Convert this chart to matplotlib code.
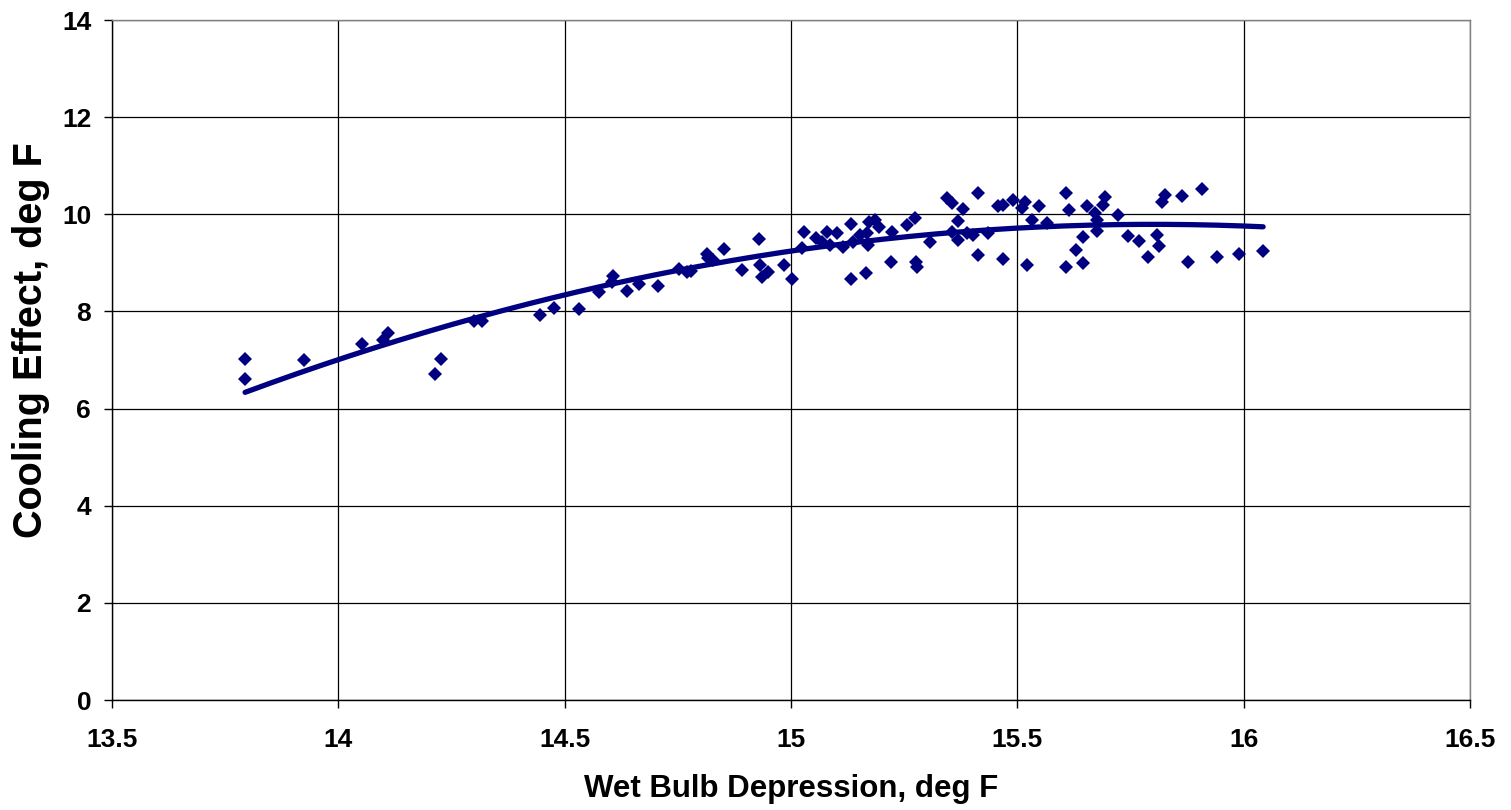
import numpy as np
import matplotlib
matplotlib.use("Agg")
import matplotlib.pyplot as plt

plt.rcParams['font.family'] = ['Liberation Sans', 'DejaVu Sans']

wet_bulb_depression = [
    13.794, 13.794, 13.924, 14.052, 14.099, 14.110, 14.227, 14.213, 14.300, 14.317,
    14.445, 14.476, 14.532, 14.576, 14.607, 14.605, 14.638, 14.664, 14.706, 14.753,
    14.770, 14.779, 14.814, 14.816, 14.828, 14.852, 14.892, 14.929, 14.931, 14.936,
    14.949, 14.984, 15.002, 15.029, 15.024, 15.055, 15.079, 15.102, 15.086, 15.068,
    15.115, 15.132, 15.132, 15.137, 15.152, 15.166, 15.172, 15.186, 15.194, 15.170,
    15.168, 15.223, 15.221, 15.256, 15.274, 15.276, 15.278, 15.307, 15.345, 15.356,
    15.380, 15.369, 15.356, 15.369, 15.413, 15.413, 15.389, 15.402, 15.435, 15.468,
    15.457, 15.468, 15.490, 15.510, 15.517, 15.521, 15.548, 15.532, 15.565, 15.607,
    15.614, 15.607, 15.629, 15.645, 15.645, 15.654, 15.671, 15.676, 15.676, 15.689,
    15.693, 15.722, 15.744, 15.769, 15.789, 15.808, 15.813, 15.819, 15.826, 15.864,
    15.877, 15.908, 15.941, 15.990, 16.043,
]
cooling_effect = [
    7.02, 6.61, 7.00, 7.33, 7.41, 7.56, 7.02, 6.71, 7.80, 7.80,
    7.93, 8.07, 8.05, 8.40, 8.73, 8.61, 8.42, 8.57, 8.52, 8.87,
    8.81, 8.83, 9.18, 9.10, 9.06, 9.29, 8.85, 9.49, 8.96, 8.71,
    8.81, 8.96, 8.67, 9.64, 9.31, 9.51, 9.64, 9.61, 9.37, 9.43,
    9.33, 9.80, 8.67, 9.43, 9.57, 8.79, 9.84, 9.88, 9.74, 9.37,
    9.61, 9.64, 9.02, 9.78, 9.92, 9.02, 8.91, 9.43, 10.34, 10.23,
    10.11, 9.86, 9.64, 9.47, 10.44, 9.16, 9.61, 9.57, 9.61, 9.08,
    10.17, 10.19, 10.29, 10.13, 10.25, 8.96, 10.17, 9.88, 9.82, 10.44,
    10.09, 8.91, 9.27, 9.53, 9.00, 10.17, 10.03, 9.88, 9.66, 10.19,
    10.36, 9.99, 9.55, 9.45, 9.12, 9.57, 9.35, 10.25, 10.40, 10.38,
    9.02, 10.52, 9.12, 9.18, 9.24,
]

x_ticks = [13.5, 14, 14.5, 15, 15.5, 16, 16.5]
x_tick_labels = ["13.5", "14", "14.5", "15", "15.5", "16", "16.5"]
y_ticks = [0, 2, 4, 6, 8, 10, 12, 14]

navy = '#000080'

fig = plt.figure(figsize=(15.11, 8.10), dpi=100)
ax = fig.add_axes([112/1511, 1 - 700/810, (1470-112)/1511, (700-20)/810])

xs = np.array(wet_bulb_depression)
ys = np.array(cooling_effect)
coef = np.polyfit(xs, ys, 2)
xf = np.linspace(xs.min(), xs.max(), 200)
ax.plot(xf, np.polyval(coef, xf), color=navy, lw=3.8, zorder=3, solid_capstyle='round')
ax.plot(xs, ys, linestyle='none', marker='D', markersize=7.5, color=navy,
        markeredgewidth=0, zorder=4)

ax.set_xlim(13.5, 16.5)
ax.set_ylim(0, 14)
ax.set_xticks(x_ticks)
ax.set_xticklabels(x_tick_labels)
ax.set_yticks(y_ticks)
ax.grid(True, color='#000000', lw=0.9)
ax.set_axisbelow(True)
for s in ['top', 'right']:
    ax.spines[s].set_color('#808080')
    ax.spines[s].set_linewidth(1.0)
for s in ['left', 'bottom']:
    ax.spines[s].set_color('#000000')
    ax.spines[s].set_linewidth(1.0)

ax.tick_params(axis='both', direction='out', length=6, width=1, labelsize=19)
ax.tick_params(axis='x', pad=14)
ax.tick_params(axis='y', pad=9)
for lab in ax.get_xticklabels() + ax.get_yticklabels():
    lab.set_fontweight('bold')

ax.set_xlabel('Wet Bulb Depression, deg F', fontsize=22.5, fontweight='bold', labelpad=16)
ax.set_ylabel('Cooling Effect, deg F', fontsize=28.5, fontweight='bold')
ax.yaxis.set_label_coords(-0.046, 0.53)

fig.savefig('out.png', dpi=100)
